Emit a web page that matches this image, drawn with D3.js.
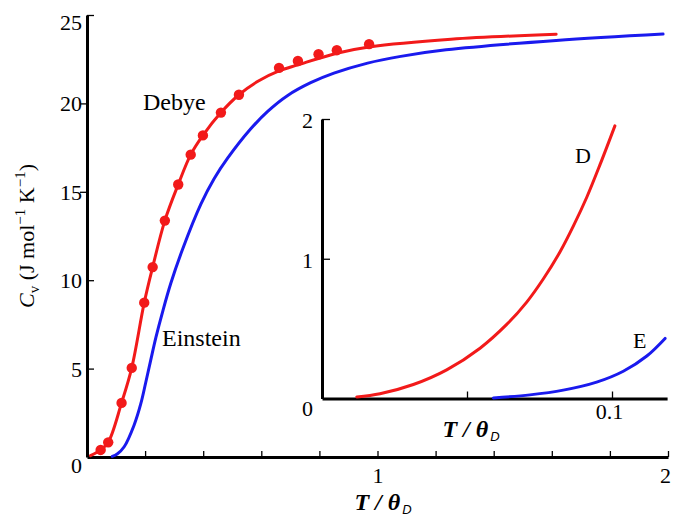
<!DOCTYPE html>
<html><head><meta charset="utf-8">
<script src="https://cdn.jsdelivr.net/npm/d3@7"></script>
<style>
body{margin:0;background:#fff}
</style>
</head><body>
<svg id="c" width="686" height="517"></svg>
<script>
// ---- data ----
const debyeT = [0.012,0.047,0.073,0.119,0.154,0.197,0.226,0.268,0.314,0.357,0.399,0.461,0.523,0.590,0.661,0.726,0.860,0.971,1.253,1.615];
const debyeC = [0.08,0.40,0.83,3.06,5.04,8.73,10.74,13.37,15.41,17.10,18.19,19.48,20.49,21.27,21.84,22.18,22.84,23.19,23.63,23.91];
const einsteinT = [0.087,0.104,0.128,0.162,0.185,0.202,0.219,0.237,0.260,0.288,0.329,0.392,0.438,0.484,0.563,0.622,0.691,0.770,0.850,0.966,1.080,1.236,1.615,1.983];
const einsteinC = [0.03,0.17,0.58,1.80,3.00,4.20,5.45,6.75,8.20,9.80,11.75,14.30,15.75,16.90,18.55,19.55,20.45,21.17,21.71,22.28,22.66,23.03,23.56,23.92];
const expT = [0.047,0.073,0.119,0.154,0.197,0.226,0.268,0.314,0.357,0.399,0.461,0.523,0.661,0.726,0.797,0.860,0.971];
const expC = [0.40,0.83,3.06,5.04,8.73,10.74,13.37,15.41,17.10,18.19,19.48,20.49,22.01,22.40,22.78,23.01,23.35];
const insetDebyeT = [0.0120,0.0200,0.0315,0.0430,0.0545,0.0637,0.0706,0.0763,0.0821,0.0867,0.0913,0.0959,0.1010];
const insetDebyeC = [0.011,0.034,0.100,0.205,0.360,0.530,0.690,0.855,1.050,1.235,1.440,1.675,1.951];
const insetEinsteinT = [0.0591,0.0717,0.0832,0.0947,0.1039,0.1120,0.1183];
const insetEinsteinC = [0.004,0.026,0.060,0.117,0.195,0.304,0.430];
const mainXTicks = [0.2,0.4,0.6,0.8,1,1.2,1.4,1.6,1.8,2];
const mainXLabels = [1,2];
const mainYTicks = [0,5,10,15,20,25];
const insetXTicks = [0.05,0.1];
const insetXLabels = [0.1];
const insetYTicks = [0,1,2];

// ---- layout ----
const SERIF = "'Liberation Serif','Tinos','Nimbus Roman','Nimbus Roman No9 L','FreeSerif','Noto Serif','DejaVu Serif','Times New Roman',Times,serif";
const SANS = "'Liberation Sans','DejaVu Sans',Arial,sans-serif";
const RED = "#f21a1a", BLUE = "#1a1aee";
const svg = d3.select("#c").style("font-family", SERIF);
const x = d3.scaleLinear().domain([0,2]).range([87,668]);
const y = d3.scaleLinear().domain([0,25]).range([457,15]);
const xi = d3.scaleLinear().domain([0,0.1]).range([322,612]);
const yi = d3.scaleLinear().domain([0,2]).range([398.5,119]);
const xiAxis = xi.copy().domain([0,0.119]).range([xi(0), xi(0.119)]);

const zip = (a,b) => a.map((v,i)=>[v,b[i]]);

function styleAxis(g){
  g.attr("font-family", SERIF).attr("font-size", 22);
  g.select(".domain").attr("stroke","#000").attr("stroke-width",3);
  g.selectAll(".tick line").attr("stroke","#000").attr("stroke-width",1.3);
  g.selectAll(".tick text").style("font-family",SERIF).style("font-size","22px").attr("fill","#000");
}
function label(xp, yp, txt, size){
  return svg.append("text").attr("x",xp).attr("y",yp)
    .style("font-family",SERIF).style("font-size",size+"px").attr("fill","#000").text(txt);
}

// main x axis
const gx = svg.append("g").attr("transform",`translate(0,${y(0)})`)
  .call(d3.axisBottom(x).tickValues(mainXTicks).tickSizeInner(-6).tickSizeOuter(0).tickPadding(10)
    .tickFormat(d => mainXLabels.includes(d) ? d3.format("d")(d) : ""));
styleAxis(gx);
gx.selectAll(".tick text").attr("dx", d => d===2 ? "-3" : "0");

// main y axis
const gy = svg.append("g").attr("transform",`translate(${x(0)},0)`)
  .call(d3.axisLeft(y).tickValues(mainYTicks).tickSizeInner(-7).tickSizeOuter(0).tickPadding(5)
    .tickFormat(d3.format("d")));
styleAxis(gy);
gy.selectAll(".tick line").attr("x2", d => (d===15||d===20) ? -7 : (d===0 ? 0 : 7));
gy.selectAll(".tick text").attr("dy", d => d===0 ? "0.72em" : (d===25 ? "0.66em" : "0.34em"));

// main curves
const line = d3.line().x(d=>x(d[0])).y(d=>y(d[1])).curve(d3.curveCatmullRom.alpha(0.5));
svg.append("path").datum(zip(einsteinT,einsteinC)).attr("d",line)
  .attr("fill","none").attr("stroke",BLUE).attr("stroke-width",3).attr("stroke-linecap","round");
svg.append("path").datum(zip(debyeT,debyeC)).attr("d",line)
  .attr("fill","none").attr("stroke",RED).attr("stroke-width",3).attr("stroke-linecap","round");
svg.append("g").selectAll("circle").data(zip(expT,expC)).join("circle")
  .attr("cx",d=>x(d[0])).attr("cy",d=>y(d[1])).attr("r",5.2).attr("fill",RED);

label(143,110,"Debye",24);
label(162,346,"Einstein",24);

// axis titles
function thetaTitle(cx, by){
  const t = svg.append("text").attr("x",cx).attr("y",by).attr("text-anchor","middle")
    .style("font-family",SERIF).style("font-size","24px").style("font-weight","bold").style("font-style","italic");
  t.append("tspan").text("T / θ");
  t.append("tspan").attr("dx",2).attr("dy",4).style("font-family",SANS)
    .style("font-size","13px").style("font-weight","normal").text("D");
}
thetaTitle(383,510);

const yt = svg.append("text").attr("transform","translate(34,236) rotate(-90)")
  .attr("text-anchor","middle").style("font-family",SERIF).style("font-size","22px");
yt.append("tspan").style("font-style","italic").text("C");
yt.append("tspan").attr("dy",5).style("font-size","15px").text("v");
yt.append("tspan").attr("dy",-5).text(" (J mol");
yt.append("tspan").attr("dy",-9).style("font-size","15px").text("−1");
yt.append("tspan").attr("dy",9).text(" K");
yt.append("tspan").attr("dy",-9).style("font-size","15px").text("−1");
yt.append("tspan").attr("dy",9).text(")");

// inset axes
const gxi = svg.append("g").attr("transform",`translate(0,${yi(0)})`)
  .call(d3.axisBottom(xiAxis).tickValues(insetXTicks).tickSizeInner(-7).tickSizeOuter(0).tickPadding(5)
    .tickFormat(d => insetXLabels.includes(d) ? String(d) : ""));
styleAxis(gxi);
gxi.selectAll(".tick text").attr("dx","-3");

const gyi = svg.append("g").attr("transform",`translate(${xi(0)},0)`)
  .call(d3.axisLeft(yi).tickValues(insetYTicks).tickSizeInner(-8).tickSizeOuter(0).tickPadding(9)
    .tickFormat(d3.format("d")));
styleAxis(gyi);
gyi.selectAll(".tick line").attr("x2", d => d===0 ? 0 : 8);
gyi.selectAll(".tick text").attr("dy", d => d===0 ? "0.78em" : "0.38em");

const ilineD = d3.line().x(d=>xi(d[0])).y(d=>yi(d[1])).curve(d3.curveCatmullRom.alpha(0.5));
svg.append("path").datum(zip(insetDebyeT,insetDebyeC)).attr("d",ilineD)
  .attr("fill","none").attr("stroke",RED).attr("stroke-width",3).attr("stroke-linecap","round");
svg.append("path").datum(zip(insetEinsteinT,insetEinsteinC)).attr("d",ilineD)
  .attr("fill","none").attr("stroke",BLUE).attr("stroke-width",3).attr("stroke-linecap","round");

label(575,163,"D",22);
label(633,348,"E",22);

thetaTitle(471,437);
</script>
</body></html>
